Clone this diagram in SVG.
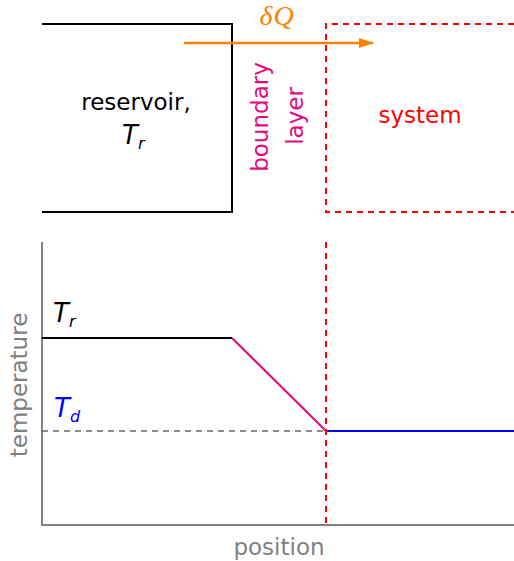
<svg xmlns="http://www.w3.org/2000/svg" width="514" height="561" viewBox="0 0 514 561">
<defs>
<style>
text{font-family:"DejaVu Sans","Liberation Sans",sans-serif;font-size:23px}
.it{font-style:italic;font-size:26px}
.sub{font-size:16px;font-style:italic}
.math{font-family:"Liberation Serif","DejaVu Serif",serif;font-style:italic;font-size:28px}
.blk{fill:none;stroke:#000;stroke-width:2}
.red{fill:none;stroke:#ff0000;stroke-width:2;stroke-dasharray:6 5}
.axis{fill:none;stroke:#808080;stroke-width:2}
</style>
<marker id="ah" viewBox="0 0 15 10" refX="14" refY="5" markerWidth="15" markerHeight="10" orient="auto" markerUnits="userSpaceOnUse">
<path d="M0,0 L15,5 L0,10 z" fill="#ff8000"/>
</marker>
</defs>
<g id="reservoir">
<path class="blk" d="M42,24 H232 V212 H42"/>
<text x="136" y="110" text-anchor="middle">reservoir,</text>
<text x="122" y="144" class="it">T<tspan class="sub" dy="5">r</tspan></text>
</g>
<g id="system">
<path class="red" d="M514,24 H326 V212 H514"/>
<text x="420" y="123" text-anchor="middle" fill="#ff0000">system</text>
</g>
<g id="boundary">
<text transform="translate(268,117) rotate(-90)" text-anchor="middle" fill="#e5097f">boundary</text>
<text transform="translate(303,116) rotate(-90)" text-anchor="middle" fill="#e5097f">layer</text>
</g>
<g id="plot">
<path class="axis" d="M42,242 V525 H514"/>
<text transform="translate(27,385) rotate(-90)" text-anchor="middle" fill="#808080">temperature</text>
<text x="279" y="555" text-anchor="middle" fill="#808080">position</text>
<text x="53" y="322" class="it">T<tspan class="sub" dy="5">r</tspan></text>
<text x="54" y="417" class="it" fill="#0000ff">T<tspan class="sub" dy="5">d</tspan></text>
</g>
<g id="connectors">
<line x1="184" y1="43" x2="373" y2="43" stroke="#ff8000" stroke-width="2.4" marker-end="url(#ah)"/>
<text x="277" y="25" class="math" text-anchor="middle" fill="#ff8000" letter-spacing="1">δQ</text>
<line x1="42" y1="338" x2="232" y2="338" stroke="#000" stroke-width="2"/>
<line x1="232" y1="338" x2="326" y2="431" stroke="#e5097f" stroke-width="2"/>
<line x1="326" y1="431" x2="514" y2="431" stroke="#0000ff" stroke-width="2"/>
<line x1="42" y1="431" x2="326" y2="431" stroke="#666" stroke-width="1.5" stroke-dasharray="6 5"/>
<line x1="326" y1="242" x2="326" y2="525" class="red"/>
</g>
</svg>
